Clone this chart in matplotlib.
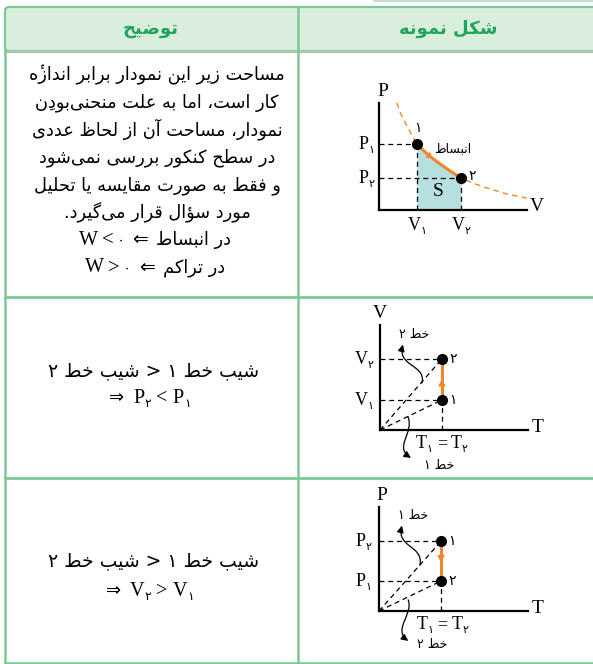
"""
Persian summary table: work as area under P-V curve, isobars on V-T, isochores on P-T.
"""

import matplotlib

matplotlib.use("Agg")

import matplotlib.pyplot as plt
from matplotlib.patches import FancyArrowPatch, FancyBboxPatch
from matplotlib.path import Path

FA = "DejaVu Sans"
SERIF = "Liberation Serif"

GREEN_LINE = "#7dc897"
HEADER_LINE = "#a3c9ab"
HEADER_BG = "#d9eedc"
HEADER_TXT = "#1fa65b"
ORANGE = "#f2862a"
SHADE = "#b5e0df"

# ---- diagram 1 (P-V): states and the isotherm
PV_V_STATES = [1.0, 2.16]
PV_P_STATES = [2.0, 0.97]
PV_CURVE_V = [0.47, 0.55, 0.68, 0.82, 1.00, 1.29, 1.60, 1.90, 2.16, 2.53, 2.92, 3.39, 3.89]
PV_CURVE_P = [3.24, 2.97, 2.67, 2.36, 2.00, 1.67, 1.40, 1.16, 0.97, 0.79, 0.64, 0.48, 0.36]
PV_SOLID = (4, 8)  # curve indices between state 1 and state 2

# ---- diagram 2 (V-T): isothermal, volume grows
VT_T_STATES = [1.0, 1.0]
VT_V_STATES = [1.0, 2.37]

# ---- diagram 3 (P-T): isothermal, pressure drops
PT_T_STATES = [1.0, 1.0]
PT_P_STATES = [2.33, 1.0]

HEADERS = ["توضیح", "شکل نمونه"]
ROW1_LINES = [
    "مساحت زیر این نمودار برابر اندازهٔ",
    "کار است، اما به علت منحنی\u200cبودنِ",
    "نمودار، مساحت آن از لحاظ عددی",
    "در سطح کنکور بررسی نمی\u200cشود",
    "و فقط به صورت مقایسه یا تحلیل",
    "مورد سؤال قرار می\u200cگیرد.",
]
ROW1_CASES = [("<", "در انبساط"), (">", "در تراکم")]
SLOPE_LINE = "شیب خط ۱ > شیب خط ۲"

ARABIC_FORMS = {
    "ا": (0xFE8D, 0xFE8E, None, None),
    "آ": (0xFE81, 0xFE82, None, None),
    "ب": (0xFE8F, 0xFE90, 0xFE91, 0xFE92),
    "پ": (0xFB56, 0xFB57, 0xFB58, 0xFB59),
    "ت": (0xFE95, 0xFE96, 0xFE97, 0xFE98),
    "ث": (0xFE99, 0xFE9A, 0xFE9B, 0xFE9C),
    "ج": (0xFE9D, 0xFE9E, 0xFE9F, 0xFEA0),
    "چ": (0xFB7A, 0xFB7B, 0xFB7C, 0xFB7D),
    "ح": (0xFEA1, 0xFEA2, 0xFEA3, 0xFEA4),
    "خ": (0xFEA5, 0xFEA6, 0xFEA7, 0xFEA8),
    "د": (0xFEA9, 0xFEAA, None, None),
    "ذ": (0xFEAB, 0xFEAC, None, None),
    "ر": (0xFEAD, 0xFEAE, None, None),
    "ز": (0xFEAF, 0xFEB0, None, None),
    "ژ": (0xFB8A, 0xFB8B, None, None),
    "س": (0xFEB1, 0xFEB2, 0xFEB3, 0xFEB4),
    "ش": (0xFEB5, 0xFEB6, 0xFEB7, 0xFEB8),
    "ص": (0xFEB9, 0xFEBA, 0xFEBB, 0xFEBC),
    "ض": (0xFEBD, 0xFEBE, 0xFEBF, 0xFEC0),
    "ط": (0xFEC1, 0xFEC2, 0xFEC3, 0xFEC4),
    "ظ": (0xFEC5, 0xFEC6, 0xFEC7, 0xFEC8),
    "ع": (0xFEC9, 0xFECA, 0xFECB, 0xFECC),
    "غ": (0xFECD, 0xFECE, 0xFECF, 0xFED0),
    "ف": (0xFED1, 0xFED2, 0xFED3, 0xFED4),
    "ق": (0xFED5, 0xFED6, 0xFED7, 0xFED8),
    "ک": (0xFB8E, 0xFB8F, 0xFB90, 0xFB91),
    "گ": (0xFB92, 0xFB93, 0xFB94, 0xFB95),
    "ل": (0xFEDD, 0xFEDE, 0xFEDF, 0xFEE0),
    "م": (0xFEE1, 0xFEE2, 0xFEE3, 0xFEE4),
    "ن": (0xFEE5, 0xFEE6, 0xFEE7, 0xFEE8),
    "ه": (0xFEE9, 0xFEEA, 0xFEEB, 0xFEEC),
    "و": (0xFEED, 0xFEEE, None, None),
    "ؤ": (0xFE85, 0xFE86, None, None),
    "ی": (0xFBFC, 0xFBFD, 0xFBFE, 0xFBFF),
}
MARKS = set("\u064b\u064c\u064d\u064e\u064f\u0650\u0651\u0652\u0654")


def joins_forward(ch):
    return ch in ARABIC_FORMS and ARABIC_FORMS[ch][2] is not None


def fa(text):
    """
    Shape Persian letters into presentation forms and return them in visual order.
    """

    clusters = []
    for ch in text:
        if ch in MARKS and clusters:
            clusters[-1][1] += ch
        else:
            clusters.append([ch, ""])
    bases = [c[0] for c in clusters]

    out = []
    i = 0
    while i < len(clusters):
        ch, marks = clusters[i]
        prev = bases[i - 1] if i > 0 else None
        nxt = bases[i + 1] if i + 1 < len(bases) else None
        if ch == "\u200c":
            i += 1
            continue
        if ch not in ARABIC_FORMS:
            out.append(ch + marks)
            i += 1
            continue
        join_prev = joins_forward(prev)
        if ch == "ل" and nxt in ("ا", "آ"):
            iso, fin = {"ا": (0xFEFB, 0xFEFC), "آ": (0xFEF5, 0xFEF6)}[nxt]
            out.append(chr(fin if join_prev else iso) + marks + clusters[i + 1][1])
            i += 2
            continue
        join_next = joins_forward(ch) and nxt in ARABIC_FORMS
        iso, fin, ini, med = ARABIC_FORMS[ch]
        if join_prev and join_next:
            code = med
        elif join_prev:
            code = fin
        elif join_next:
            code = ini
        else:
            code = iso
        out.append(chr(code) + marks)
        i += 1
    return "".join(reversed(out))


fig = plt.figure(figsize=(5.93, 6.64), dpi=100)


def draw_runs(ax, x, y, runs, align="center", voff=0.0, **kw):
    """
    Lay out (text, size, family, dy, gap) pieces left to right around (x, y).
    """

    renderer = fig.canvas.get_renderer()
    placed = []
    for text, size, family, dy, gap in runs:
        t = ax.annotate(
            text,
            (x, y),
            xytext=(0, 0),
            textcoords="offset pixels",
            fontsize=size,
            family=family,
            ha="left",
            va="baseline",
            annotation_clip=False,
            **kw,
        )
        width = t.get_window_extent(renderer).width
        placed.append((t, dy, width, gap))
    total = sum(w + g for _, _, w, g in placed) - placed[-1][3]
    cursor = {"left": 0.0, "center": -total / 2, "right": -total}[align]
    for t, dy, width, gap in placed:
        t.xyann = (cursor, dy + voff)
        cursor += width + gap


def sub_runs(base, digit, size=13, gap=0):
    return [(base, size, SERIF, 0, 0), (digit, size * 0.62, FA, -4, gap)]


def make_diagram(left, origin_y, width, height, xmax, ymax):
    ax = fig.add_axes([left / 593, (664 - origin_y) / 664, width / 593, height / 664])
    ax.set_xlim(0, xmax)
    ax.set_ylim(0, ymax)
    for side in ("top", "right"):
        ax.spines[side].set_visible(False)
    for side in ("left", "bottom"):
        ax.spines[side].set_linewidth(1.6)
    ax.set_xticks([])
    ax.set_yticks([])
    ax.patch.set_alpha(0)
    return ax


def curl(ax, verts, scale=10):
    path = Path(verts, [Path.MOVETO, Path.CURVE4, Path.CURVE4, Path.CURVE4])
    arrow = FancyArrowPatch(
        path=path,
        arrowstyle="-|>",
        mutation_scale=scale,
        lw=0.9,
        color="black",
        clip_on=False,
    )
    ax.add_patch(arrow)


def equal_temps(ax, x, y):
    runs = sub_runs("T", "۱", gap=4) + [("=", 13, SERIF, 0, 4)] + sub_runs("T", "۲")
    draw_runs(ax, x, y, runs, voff=-5)


DASH = dict(color="black", lw=0.9, linestyle=(0, (4, 3)), clip_on=False)

# ---------------- table frame ----------------
bg = fig.add_axes([0, 0, 1, 1])
bg.set_xlim(0, 593)
bg.set_ylim(664, 0)
bg.axis("off")

bg.add_patch(
    FancyBboxPatch(
        (9, 11), 585, 36, boxstyle="round,pad=4", fc=HEADER_BG, ec=GREEN_LINE, lw=1.6
    )
)
bg.plot([374, 593], [1, 1], color="#c8dacb", lw=1.5)
bg.plot([5, 598], [51, 51], color=HEADER_LINE, lw=2.2)
bg.plot([5, 5], [51, 663], color=GREEN_LINE, lw=1.8)
bg.plot([5, 598], [663, 663], color=GREEN_LINE, lw=1.8)
bg.plot([298, 298], [7, 664], color=GREEN_LINE, lw=1.8)
bg.plot([5, 598], [297, 297], color=GREEN_LINE, lw=2.0)
bg.plot([5, 598], [478, 478], color=GREEN_LINE, lw=2.0)

for cx, title in zip([151, 448], HEADERS):
    draw_runs(bg, cx, 34, [(fa(title), 13, FA, 0, 0)], color=HEADER_TXT, weight="bold")

# ---------------- left column text ----------------
for i, line in enumerate(ROW1_LINES):
    draw_runs(bg, 157, 80 + 27.5 * i, [(fa(line), 12.8, FA, 0, 0)])

for i, (sign, phrase) in enumerate(ROW1_CASES):
    draw_runs(
        bg,
        155,
        80 + 27.5 * (6 + i),
        [
            ("W", 14.5, SERIF, 0, 4),
            (sign, 15, SERIF, 0, 3),
            ("۰", 11, FA, 0, 8),
            ("⇐", 13.5, FA, 0, 8),
            (fa(phrase), 12.8, FA, 0, 0),
        ],
    )

for y1, y2, letter, sign in [(376, 403, "P", "<"), (566, 596, "V", ">")]:
    draw_runs(bg, 154, y1, [(fa(SLOPE_LINE), 13.5, FA, 0, 0)])
    draw_runs(
        bg,
        150,
        y2,
        [("⇒", 13, FA, 0, 9)]
        + sub_runs(letter, "۲", 14.5, gap=5)
        + [(sign, 14.5, SERIF, 0, 5)]
        + sub_runs(letter, "۱", 14.5),
    )

# ---------------- diagram 1: P-V ----------------
ax1 = make_diagram(379, 210, 148, 107, 3.9, 3.24)
lo, hi = PV_SOLID
ax1.fill_between(PV_CURVE_V[lo:hi + 1], PV_CURVE_P[lo:hi + 1], 0, color=SHADE, lw=0, zorder=1)
for v, p in zip(PV_V_STATES, PV_P_STATES):
    ax1.plot([0, v], [p, p], **DASH)
    ax1.plot([v, v], [0, p], **DASH)
ax1.plot(PV_CURVE_V, PV_CURVE_P, color=ORANGE, lw=1.0, linestyle=(0, (4, 3)), clip_on=False)
ax1.plot(PV_CURVE_V[lo:hi + 1], PV_CURVE_P[lo:hi + 1], color=ORANGE, lw=2.2, zorder=3)
ax1.annotate(
    "",
    xy=(PV_CURVE_V[lo + 1] + 0.2, PV_CURVE_P[lo + 1] - 0.17),
    xytext=(PV_CURVE_V[lo + 1], PV_CURVE_P[lo + 1]),
    arrowprops=dict(arrowstyle="-|>", color=ORANGE, lw=0, mutation_scale=13),
    zorder=4,
)
ax1.plot(PV_V_STATES, PV_P_STATES, "o", color="black", ms=7, zorder=5, clip_on=False)
ax1.text(0.1, 3.6, "P", fontsize=14, family=SERIF, ha="center", va="center")
ax1.text(4.15, 0.1, "V", fontsize=14, family=SERIF, ha="center", va="center")
ax1.text(1.55, 0.55, "S", fontsize=14, family=SERIF, ha="center", va="center")
ax1.text(1.02, 2.47, "۱", fontsize=10, family=FA, ha="center", va="center", zorder=6)
ax1.text(2.45, 1.02, "۲", fontsize=10, family=FA, ha="center", va="center", zorder=6)
ax1.text(1.95, 1.85, fa("انبساط"), fontsize=9, family=FA, ha="center", va="center")
for p, digit in zip(PV_P_STATES, ["۱", "۲"]):
    draw_runs(ax1, -0.12, p, sub_runs("P", digit), align="right", voff=-5)
for v, digit in zip(PV_V_STATES, ["۱", "۲"]):
    draw_runs(ax1, v, -0.45, sub_runs("V", digit), voff=-5)

# ---------------- diagram 2: V-T ----------------
ax2 = make_diagram(380, 430, 148, 105, 2.39, 3.5)
for t, v in zip(VT_T_STATES, VT_V_STATES):
    ax2.plot([0, t], [0, v], **DASH)
    ax2.plot([0, t], [v, v], **DASH)
ax2.plot([VT_T_STATES[0]] * 2, [0, VT_V_STATES[0]], **DASH)
ax2.plot(VT_T_STATES, VT_V_STATES, color=ORANGE, lw=2.2, zorder=3)
ax2.annotate(
    "",
    xy=(VT_T_STATES[0], 1.8),
    xytext=(VT_T_STATES[0], 1.4),
    arrowprops=dict(arrowstyle="-|>", color=ORANGE, lw=0, mutation_scale=14),
    zorder=4,
)
ax2.plot(VT_T_STATES, VT_V_STATES, "o", color="black", ms=7, zorder=5, clip_on=False)
ax2.text(0.0, 3.9, "V", fontsize=14, family=SERIF, ha="center", va="center")
ax2.text(2.55, 0.07, "T", fontsize=14, family=SERIF, ha="center", va="center")
for v, digit in zip(VT_V_STATES, ["۱", "۲"]):
    ax2.text(1.18, v, digit, fontsize=10, family=FA, ha="center", va="center")
    draw_runs(ax2, -0.1, v, sub_runs("V", digit), align="right", voff=-5)
equal_temps(ax2, 1.0, -0.45)
curl(ax2, [(0.68, 1.57), (0.74, 2.2), (0.28, 2.1), (0.37, 2.85)])
curl(ax2, [(0.45, 0.45), (0.56, -0.1), (0.22, -0.55), (0.5, -0.93)])
ax2.text(0.55, 3.17, fa("خط ۲"), fontsize=9, family=FA, ha="center", va="center")
ax2.text(0.95, -1.17, fa("خط ۱"), fontsize=9, family=FA, ha="center", va="center")

# ---------------- diagram 3: P-T ----------------
ax3 = make_diagram(379, 611, 149, 104, 2.4, 3.47)
for t, p in zip(PT_T_STATES, PT_P_STATES):
    ax3.plot([0, t], [0, p], **DASH)
    ax3.plot([0, t], [p, p], **DASH)
ax3.plot([PT_T_STATES[1]] * 2, [0, PT_P_STATES[1]], **DASH)
ax3.plot(PT_T_STATES, PT_P_STATES, color=ORANGE, lw=2.2, zorder=3)
ax3.annotate(
    "",
    xy=(PT_T_STATES[0], 1.52),
    xytext=(PT_T_STATES[0], 1.95),
    arrowprops=dict(arrowstyle="-|>", color=ORANGE, lw=0, mutation_scale=14),
    zorder=4,
)
ax3.plot(PT_T_STATES, PT_P_STATES, "o", color="black", ms=7, zorder=5, clip_on=False)
ax3.text(0.05, 3.87, "P", fontsize=14, family=SERIF, ha="center", va="center")
ax3.text(2.55, 0.1, "T", fontsize=14, family=SERIF, ha="center", va="center")
for p, digit, axis_digit in zip(PT_P_STATES, ["۱", "۲"], ["۲", "۱"]):
    ax3.text(1.18, p, digit, fontsize=10, family=FA, ha="center", va="center")
    draw_runs(ax3, -0.12, p, sub_runs("P", axis_digit), align="right", voff=-5)
equal_temps(ax3, 1.02, -0.43)
curl(ax3, [(0.66, 1.53), (0.72, 2.2), (0.28, 2.1), (0.37, 2.85)])
curl(ax3, [(0.47, 0.37), (0.56, -0.1), (0.22, -0.6), (0.47, -1.0)])
ax3.text(0.55, 3.17, fa("خط ۱"), fontsize=9, family=FA, ha="center", va="center")
ax3.text(0.85, -1.13, fa("خط ۲"), fontsize=9, family=FA, ha="center", va="center")

fig.savefig("out.png", dpi=100)
plt.close(fig)
